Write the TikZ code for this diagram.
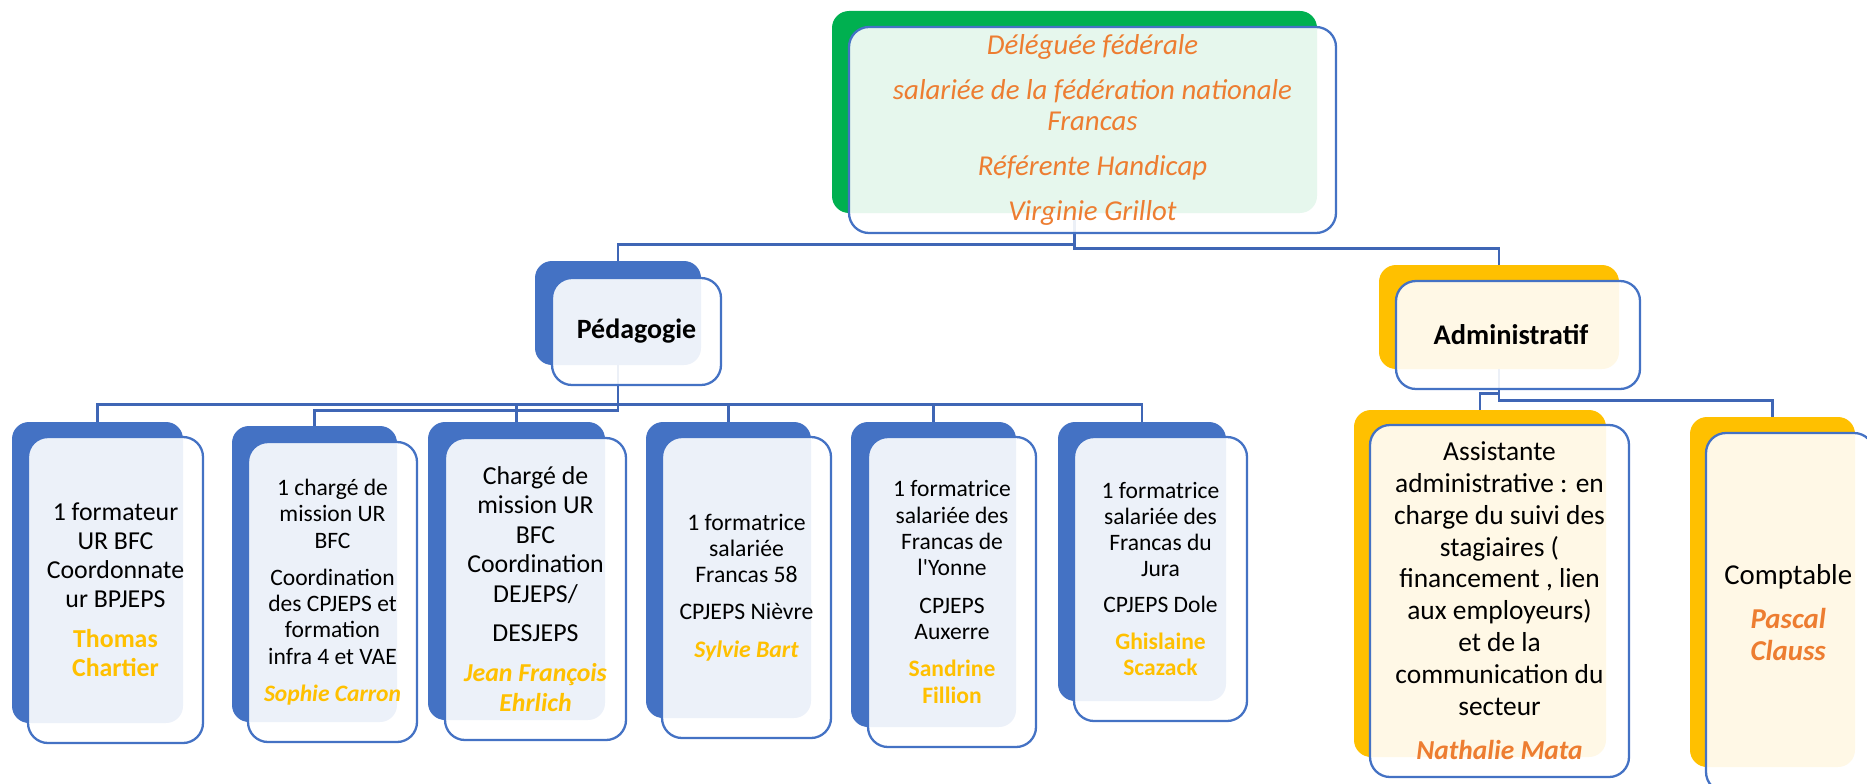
\documentclass[tikz,border=0pt]{standalone}
\usepackage{fontspec}
\setmainfont{Carlito}
\usetikzlibrary{fit}

\definecolor{accentblue}{HTML}{4472C4}
\definecolor{accentgreen}{HTML}{00B050}
\definecolor{accentgold}{HTML}{FFC000}
\definecolor{accentorange}{HTML}{ED7D31}
\definecolor{linkblue}{HTML}{3F66B5}

\tikzset{
    backbox/.style={inner sep=0pt, rounded corners=0.34cm, fill=#1},
    frontbox/.style={inner sep=0pt, rounded corners=0.4cm, draw=accentblue,
        line width=1.3pt, fill=white, fill opacity=0.9},
    link/.style={draw=linkblue, line width=1.4pt},
    txt/.style={inner sep=0pt, align=center, text=black}
}

\begin{document}
\begin{tikzpicture}[x=0.02cm, y=-0.02cm]
        \useasboundingbox (0,0) rectangle (1867,784);
        \clip (0,0) rectangle (1867,784);

        % Coloured back boxes
        \node[backbox=accentgreen, fit={(832,11) (1317,213)}] (top) {};
        \node[backbox=accentblue, fit={(535,261) (701,365)}] (ped) {};
        \node[backbox=accentgold, fit={(1379,265) (1619,369)}] (adm) {};

        \node[backbox=accentblue, fit={(12,422) (183,723)}] (p1) {};
        \node[backbox=accentblue, fit={(232,426) (397,722)}] (p2) {};
        \node[backbox=accentblue, fit={(428,422) (605,720)}] (p3) {};
        \node[backbox=accentblue, fit={(646,422) (811,718)}] (p4) {};
        \node[backbox=accentblue, fit={(851,422) (1016,727)}] (p5) {};
        \node[backbox=accentblue, fit={(1058,422) (1226,701)}] (p6) {};

        \node[backbox=accentgold, fit={(1354,410) (1606,757)}] (a1) {};
        \node[backbox=accentgold, fit={(1690,417) (1855,767)}] (a2) {};

        % Connectors
        \draw[link] (top.south) -- ++(0,31) -| (ped.north);
        \draw[link] (top.south) -- ++(0,35) -| (adm.north);

        \foreach \c in {p1,p3,p4,p5,p6} {
            \draw[link] (ped.south) -- ++(0,39) -| (\c.north);
        }
        \draw[link] (ped.south) -- ++(0,45) -| (p2.north);

        \draw[link] (adm.south) -- ++(0,24) -| (a1.north);
        \draw[link] (adm.south) -- ++(0,31) -| (a2.north);

        % White front boxes
        \node[frontbox, fit={(849,27) (1336,233)}] (topF) {};
        \node[frontbox, fit={(552,278) (721,385)}] (pedF) {};
        \node[frontbox, fit={(1396,281) (1640,389)}] (admF) {};

        \node[frontbox, fit={(28,437) (203,743)}] (p1F) {};
        \node[frontbox, fit={(248,442) (417,742)}] (p2F) {};
        \node[frontbox, fit={(445,438) (626,740)}] (p3F) {};
        \node[frontbox, fit={(662,437) (831,738)}] (p4F) {};
        \node[frontbox, fit={(868,437) (1036,747)}] (p5F) {};
        \node[frontbox, fit={(1074,437) (1247,721)}] (p6F) {};

        \node[frontbox, fit={(1370,425) (1629,777)}] (a1F) {};
        \node[frontbox, fit={(1706,433) (1874,792)}] (a2F) {};

        % Texts
        \node[txt, text=accentorange, font=\fontsize{16.4pt}{17.6pt}\selectfont\itshape] (topT) at (topF.center)
            {Déléguée fédérale\\[7.9pt] salariée de la fédération nationale\\ Francas\\[7.9pt]
             Référente Handicap\\[7.9pt] Virginie Grillot};

        \node[txt, font=\fontsize{15.9pt}{18pt}\selectfont\bfseries] (pedT) at (pedF.center) {Pédagogie};
        \node[txt, font=\fontsize{16.2pt}{18pt}\selectfont\bfseries] (admT) at ([xshift=-4]admF.center) {Administratif};

        \node[txt, font=\fontsize{14.7pt}{16.4pt}\selectfont] (p1T) at (p1F.center)
            {1 formateur\\ UR BFC\\ Coordonnate\\ ur BPJEPS\\[6.8pt]
             \textcolor{accentgold}{\bfseries Thomas}\\ \textcolor{accentgold}{\bfseries Chartier}};

        \node[txt, font=\fontsize{13.4pt}{15pt}\selectfont] (p2T) at (p2F.center)
            {1 chargé de\\ mission UR\\ BFC\\[6pt] Coordination\\ des CPJEPS et\\ formation\\ infra 4 et VAE\\[6pt]
             \textcolor{accentgold}{\bfseries\itshape Sophie Carron}};

        \node[txt, font=\fontsize{14.7pt}{16.7pt}\selectfont] (p3T) at (p3F.center)
            {Chargé de\\ mission UR\\ BFC\\ Coordination\\ DEJEPS/\\[6pt] DESJEPS\\[6pt]
             \textcolor{accentgold}{\bfseries\itshape Jean François}\\ \textcolor{accentgold}{\bfseries\itshape Ehrlich}};

        \node[txt, font=\fontsize{13.5pt}{14.7pt}\selectfont] (p4T) at (p4F.center)
            {1 formatrice\\ salariée\\ Francas 58\\[6.6pt] CPJEPS Nièvre\\[6.6pt]
             \textcolor{accentgold}{\bfseries\itshape Sylvie Bart}};

        \node[txt, font=\fontsize{13.4pt}{14.9pt}\selectfont] (p5T) at (p5F.center)
            {1 formatrice\\ salariée des\\ Francas de\\ l\textquotesingle Yonne\\[6.5pt] CPJEPS\\ Auxerre\\[6.5pt]
             \textcolor{accentgold}{\bfseries Sandrine}\\ \textcolor{accentgold}{\bfseries Fillion}};

        \node[txt, font=\fontsize{13.4pt}{14.9pt}\selectfont] (p6T) at (p6F.center)
            {1 formatrice\\ salariée des\\ Francas du\\ Jura\\[5.5pt] CPJEPS Dole\\[6pt]
             \textcolor{accentgold}{\bfseries Ghislaine}\\ \textcolor{accentgold}{\bfseries Scazack}};

        \node[txt, font=\fontsize{15.6pt}{18.1pt}\selectfont] (a1T) at (a1F.center)
            {Assistante\\ administrative : en\\ charge du suivi des\\ stagiaires (\\ financement , lien\\
             aux employeurs)\\ et de la\\ communication du\\ secteur\\[7.4pt]
             \textcolor{accentorange}{\bfseries\itshape Nathalie Mata}};

        \node[txt, font=\fontsize{16.4pt}{18.1pt}\selectfont] (a2T) at ([xshift=-1]a2F.center)
            {Comptable\\[7.4pt] \textcolor{accentorange}{\bfseries\itshape Pascal}\\ \textcolor{accentorange}{\bfseries\itshape Clauss}};

    \end{tikzpicture}
\end{document}
